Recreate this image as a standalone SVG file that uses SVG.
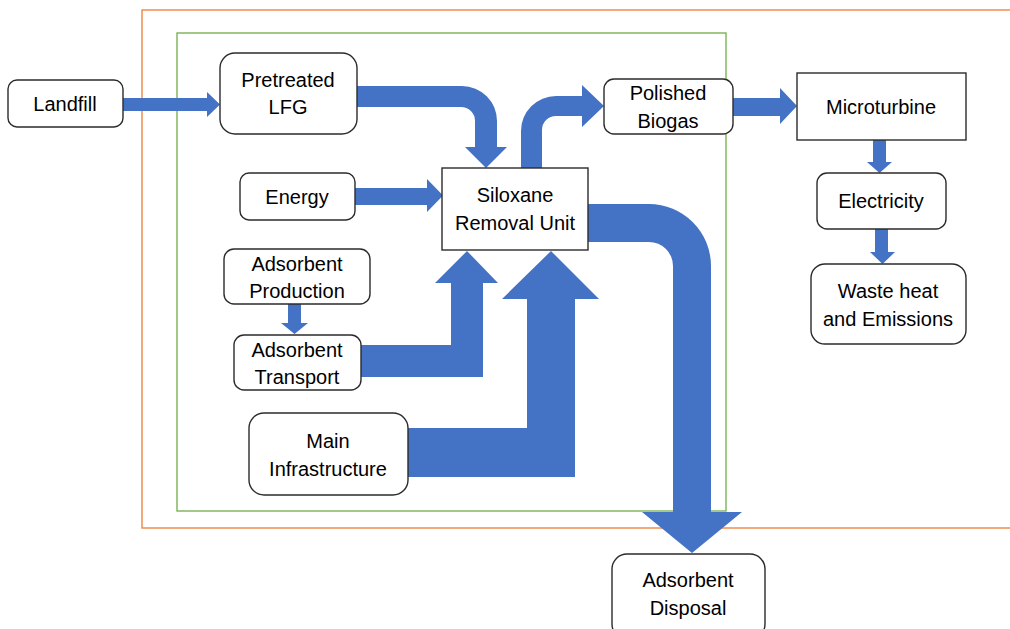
<svg xmlns="http://www.w3.org/2000/svg" width="1010" height="629" viewBox="0 0 1010 629">
<style>
.box{fill:#fff;stroke:#2b2b2b;stroke-width:1.4}
.arr{fill:#4472C4;stroke:none}
text{font-family:"Liberation Sans",Arial,sans-serif;font-size:20px;fill:#000;text-anchor:middle}
</style>
<rect width="1010" height="629" fill="#fff"/>
<g id="boundaries">
<rect x="142" y="10" width="872" height="518" fill="none" stroke="#ED7D31" stroke-width="1.3"/>
<rect x="177" y="33" width="549" height="478" fill="none" stroke="#70AD47" stroke-width="1.3"/>
</g>
<g id="connectors">
<polygon class="arr" points="123,98 207,98 207,92 220,104.5 207,117 207,111 123,111"/>
<path class="arr" d="M357,86 H462 A35,35 0 0 1 497,121 V147 H507 L486,168 L465,147 H475 V121 A14,14 0 0 0 461,107 H357 Z"/>
<polygon class="arr" points="355,188 427,188 427,179 443,195.5 427,212 427,205 355,205"/>
<path class="arr" d="M521,168 V131 A35,35 0 0 1 556,96 H582 V85 L604,106 L582,127 V116 H556 A14,14 0 0 0 542,130 V168 Z"/>
<polygon class="arr" points="733,98 780,98 780,88 797,106 780,124 780,116 733,116"/>
<polygon class="arr" points="873,140 886,140 886,162 892,162 879.5,173 867,162 873,162"/>
<polygon class="arr" points="875,229 888,229 888,252 895,252 882.5,264 870,252 875,252"/>
<path class="arr" d="M588,204 H649 A62,62 0 0 1 711,266 V512 H742 L692,553 L642,512 H673 V266 A24,24 0 0 0 649,242 H588 Z"/>
<polygon class="arr" points="288,304 301,304 301,323 308,323 294.5,334 281,323 288,323"/>
<polygon class="arr" points="361,345 451,345 451,283 435,283 467,251 498,283 483,283 483,377 361,377"/>
<polygon class="arr" points="408,428 527,428 527,299 502,299 551,251 599,299 575,299 575,477 408,477"/>
</g>
<g id="landfill"><rect class="box" x="8" y="80" width="115" height="47" rx="9"/><text x="65" y="111">Landfill</text></g>
<g id="pretreated-lfg"><rect class="box" x="220" y="53" width="137" height="81" rx="15"/><text x="288" y="87">Pretreated</text><text x="288" y="114">LFG</text></g>
<g id="energy"><rect class="box" x="240" y="173" width="115" height="47" rx="9"/><text x="297" y="204">Energy</text></g>
<g id="siloxane-removal-unit"><rect class="box" x="442" y="168" width="146" height="82"/><text x="515" y="202">Siloxane</text><text x="515" y="230">Removal Unit</text></g>
<g id="polished-biogas"><rect class="box" x="604" y="79" width="129" height="55" rx="10"/><text x="668" y="100">Polished</text><text x="668" y="128">Biogas</text></g>
<g id="microturbine"><rect class="box" x="797" y="73" width="169" height="67"/><text x="881" y="114">Microturbine</text></g>
<g id="electricity"><rect class="box" x="817" y="173" width="129" height="56" rx="10"/><text x="881" y="208">Electricity</text></g>
<g id="waste-heat"><rect class="box" x="811" y="264" width="155" height="80" rx="14"/><text x="888" y="298">Waste heat</text><text x="888" y="326">and Emissions</text></g>
<g id="adsorbent-production"><rect class="box" x="224" y="249" width="146" height="55" rx="10"/><text x="297" y="271">Adsorbent</text><text x="297" y="298">Production</text></g>
<g id="adsorbent-transport"><rect class="box" x="234" y="335" width="127" height="55" rx="10"/><text x="297" y="357">Adsorbent</text><text x="297" y="384">Transport</text></g>
<g id="main-infrastructure"><rect class="box" x="249" y="413" width="159" height="82" rx="15"/><text x="328" y="448">Main</text><text x="328" y="476">Infrastructure</text></g>
<g id="adsorbent-disposal"><rect class="box" x="612" y="554" width="153" height="85" rx="15"/><text x="688" y="587">Adsorbent</text><text x="688" y="615">Disposal</text></g>
</svg>
